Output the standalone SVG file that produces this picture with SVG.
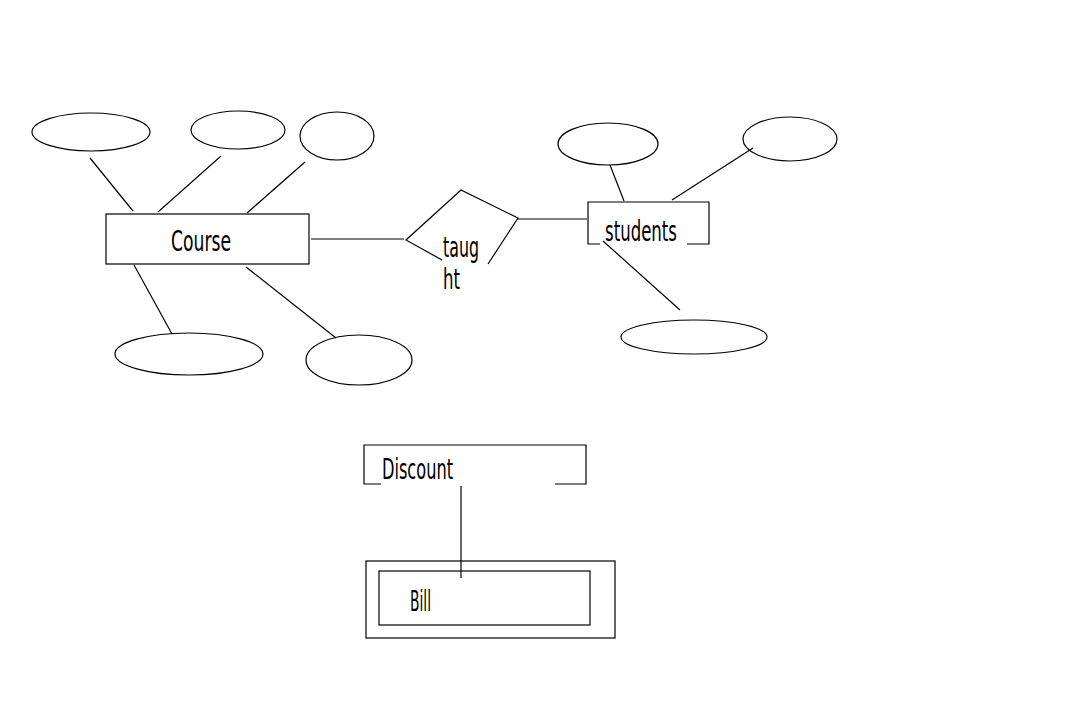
<svg xmlns="http://www.w3.org/2000/svg" width="1086" height="701" viewBox="0 0 1086 701">
<style>
.s{fill:none;stroke:#000;stroke-width:1.2}
.t{font-family:"DejaVu Sans Condensed","DejaVu Sans",sans-serif;font-size:29px;fill:#000}
</style>
<rect width="1086" height="701" fill="#fff"/>
<g id="connectors">
<line class="s" x1="90" y1="158" x2="133" y2="211"/>
<line class="s" x1="221" y1="156" x2="158" y2="212"/>
<line class="s" x1="305" y1="162" x2="247" y2="213"/>
<line class="s" x1="134" y1="265" x2="172" y2="334"/>
<line class="s" x1="246" y1="267" x2="336" y2="338"/>
<line class="s" x1="311" y1="239" x2="404" y2="239"/>
<line class="s" x1="518" y1="219" x2="587" y2="219"/>
<line class="s" x1="610" y1="165" x2="624" y2="201"/>
<line class="s" x1="753" y1="148" x2="672" y2="200"/>
<line class="s" x1="603" y1="241" x2="680" y2="310"/>
<line class="s" x1="461" y1="486" x2="461" y2="578"/>
</g>
<g id="course">
<rect class="s" x="106" y="214" width="203" height="50"/>
<text class="t" x="171" y="251" textLength="60" lengthAdjust="spacingAndGlyphs">Course</text>
</g>
<g id="course-attr1"><ellipse class="s" cx="91" cy="132" rx="59" ry="19"/></g>
<g id="course-attr2"><ellipse class="s" cx="238" cy="130" rx="47" ry="19"/></g>
<g id="course-attr3"><ellipse class="s" cx="337" cy="136" rx="37" ry="24"/></g>
<g id="course-attr4"><ellipse class="s" cx="189" cy="354" rx="74" ry="21"/></g>
<g id="course-attr5"><ellipse class="s" cx="359" cy="360" rx="53" ry="25"/></g>
<g id="taught">
<polyline class="s" points="442,260 406,240 461,190 518,218 488,264"/>
<text class="t" x="443" y="257" textLength="36" lengthAdjust="spacingAndGlyphs">taug</text>
<text class="t" x="443" y="289" textLength="17" lengthAdjust="spacingAndGlyphs">ht</text>
</g>
<g id="students">
<polyline class="s" points="600,244 588,244 588,202 709,202 709,244 687,244"/>
<text class="t" x="605" y="241" textLength="72" lengthAdjust="spacingAndGlyphs">students</text>
</g>
<g id="students-attr1"><ellipse class="s" cx="608" cy="144" rx="50" ry="21"/></g>
<g id="students-attr2"><ellipse class="s" cx="790" cy="139" rx="47" ry="22"/></g>
<g id="students-attr3"><ellipse class="s" cx="694" cy="337" rx="73" ry="17"/></g>
<g id="discount">
<polyline class="s" points="381,484 364,484 364,445 586,445 586,484 555,484"/>
<text class="t" x="382" y="479" textLength="71" lengthAdjust="spacingAndGlyphs">Discount</text>
</g>
<g id="bill">
<rect class="s" x="366" y="561" width="249" height="77"/>
<rect class="s" x="379" y="571" width="211" height="54"/>
<text class="t" x="410" y="611" textLength="21" lengthAdjust="spacingAndGlyphs">Bill</text>
</g>
</svg>
